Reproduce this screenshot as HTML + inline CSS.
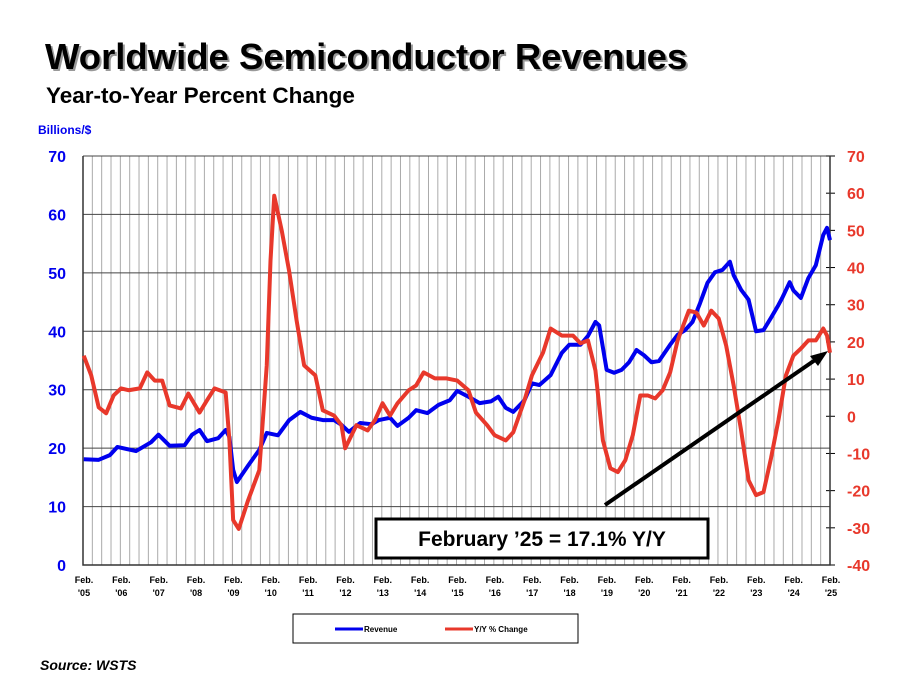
<!DOCTYPE html>
<html><head><meta charset="utf-8"><style>
body{margin:0;background:#fff;width:905px;height:691px;overflow:hidden;font-family:"Liberation Sans",Arial,sans-serif}
svg text{font-family:"Liberation Sans",Arial,sans-serif;font-weight:bold}
</style></head><body>
<svg id="c" width="905" height="691">
<text x="47" y="71" font-size="36.5" fill="#999">Worldwide Semiconductor Revenues</text>
<text x="45" y="69" font-size="36.5" fill="#000">Worldwide Semiconductor Revenues</text>
<text x="46" y="103" font-size="22.5" fill="#000">Year-to-Year Percent Change</text>
<text x="38" y="134" font-size="12" fill="#0000ee">Billions/$</text>
<g id="grid"></g><g id="axes"></g><g id="series"></g>
<line x1="605" y1="505" x2="818" y2="358" stroke="#000" stroke-width="4"/>
<polygon points="828,351 810,356 818,366" fill="#000"/>
<rect x="376" y="519" width="332" height="39" fill="#fff" stroke="#000" stroke-width="3"/>
<text x="542" y="546" font-size="21" text-anchor="middle">February ’25 = 17.1% Y/Y</text>
<rect x="293" y="614" width="285" height="29" fill="#fff" stroke="#000" stroke-width="1"/>
<line x1="335" y1="629" x2="363" y2="629" stroke="#0000ee" stroke-width="3"/>
<text x="364" y="632" font-size="8">Revenue</text>
<line x1="445" y1="629" x2="473" y2="629" stroke="#e8382b" stroke-width="3"/>
<text x="474" y="632" font-size="8">Y/Y % Change</text>
<text x="40" y="670" font-size="14" font-style="italic">Source: WSTS</text>
</svg>
<script>
const revYears=[2005.1,2005.5,2005.8,2006.0,2006.5,2006.9,2007.1,2007.4,2007.8,2008.0,2008.2,2008.4,2008.7,2008.9,2009.0,2009.1,2009.2,2009.5,2009.8,2010.0,2010.3,2010.6,2010.9,2011.2,2011.5,2011.8,2012.0,2012.2,2012.5,2012.8,2013.0,2013.3,2013.5,2013.8,2014.0,2014.3,2014.6,2014.9,2015.1,2015.4,2015.7,2016.0,2016.2,2016.4,2016.6,2016.9,2017.1,2017.3,2017.6,2017.9,2018.1,2018.4,2018.6,2018.8,2018.9,2019.1,2019.3,2019.5,2019.7,2019.9,2020.1,2020.3,2020.5,2020.8,2021.0,2021.2,2021.4,2021.6,2021.8,2022.0,2022.2,2022.4,2022.5,2022.7,2022.9,2023.1,2023.3,2023.5,2023.7,2023.8,2024.0,2024.1,2024.3,2024.5,2024.7,2024.9,2025.0,2025.08];
const revenue=[18.1,18,18.8,20.2,19.5,21,22.3,20.4,20.5,22.3,23.1,21.2,21.7,23.1,21.9,16.3,14.2,17,19.7,22.6,22.2,24.8,26.2,25.2,24.8,24.8,24,22.8,24.3,24.1,24.8,25.2,23.8,25.2,26.5,26,27.4,28.2,29.8,28.8,27.7,28,28.8,26.9,26.2,28.2,31.1,30.8,32.5,36.3,37.7,37.7,39.2,41.6,41,33.4,32.9,33.4,34.7,36.8,35.9,34.7,34.9,37.7,39.4,40.2,41.6,44.8,48.3,50.1,50.5,51.9,49.6,47.1,45.4,40,40.2,42.3,44.5,45.7,48.4,47,45.7,49.1,51.3,56.5,57.7,55.6];
const yoyYears=[2005.1,2005.3,2005.5,2005.7,2005.9,2006.1,2006.3,2006.6,2006.8,2007.0,2007.2,2007.4,2007.7,2007.9,2008.2,2008.4,2008.6,2008.9,2009.0,2009.1,2009.25,2009.5,2009.8,2010.0,2010.1,2010.2,2010.4,2010.6,2010.8,2011.0,2011.3,2011.5,2011.8,2012.0,2012.1,2012.4,2012.7,2012.9,2013.1,2013.3,2013.5,2013.8,2014.0,2014.2,2014.5,2014.8,2015.1,2015.4,2015.6,2015.9,2016.1,2016.4,2016.6,2016.9,2017.1,2017.4,2017.6,2017.9,2018.2,2018.4,2018.6,2018.8,2019.0,2019.2,2019.4,2019.6,2019.8,2020.0,2020.2,2020.4,2020.6,2020.8,2021.0,2021.3,2021.5,2021.7,2021.9,2022.1,2022.3,2022.5,2022.7,2022.9,2023.1,2023.3,2023.5,2023.7,2023.9,2024.1,2024.3,2024.5,2024.7,2024.9,2025.0,2025.08];
const yoy=[16.3,11,2.4,0.8,5.6,7.5,7,7.5,11.8,9.6,9.6,2.9,2.1,6.1,1,4.3,7.5,6.4,-6.5,-27.9,-30.3,-22.6,-14.5,13.7,41.8,59.3,50,39,25.7,13.7,11,1.6,0.2,-2.4,-8.6,-2.4,-3.8,-1,3.5,0.2,3.5,7,8.3,11.8,10.2,10.2,9.6,7,1,-2.4,-5.1,-6.5,-4.3,4.3,11,17.2,23.6,21.7,21.7,19.6,20.4,12.3,-6.5,-14,-15,-11.8,-5.1,5.6,5.6,4.8,7,11.8,20.4,28.4,27.9,24.4,28.4,26.3,19,8.3,-3.8,-17.2,-21.2,-20.4,-11.3,-1,11,16.3,18.2,20.4,20.4,23.6,21.7,17.1];
const leftTicks=[0,10,20,30,40,50,60,70];
const rightTicks=[-40,-30,-20,-10,0,10,20,30,40,50,60,70];
const yearLabels=["'05","'06","'07","'08","'09","'10","'11","'12","'13","'14","'15","'16","'17","'18","'19","'20","'21","'22","'23","'24","'25"];
const X0=83,X1=830,T=156,B=565;
const x=y=>X0+(y-2005.08)/20*(X1-X0);
const yl=v=>B-v/70*(B-T);
const yr=v=>B-(v+40)/110*(B-T);
const NS="http://www.w3.org/2000/svg";
function mk(p,tag,at){const e=document.createElementNS(NS,tag);for(const k in at)e.setAttribute(k,at[k]);p.appendChild(e);return e;}
const grid=document.getElementById('grid'),axes=document.getElementById('axes'),ser=document.getElementById('series');
for(let i=1;i<80;i++){const gx=X0+i*(X1-X0)/80;
const l=mk(grid,'line',{x1:gx,x2:gx,y1:T,y2:B,stroke:'#aaa','stroke-width':1});

}
leftTicks.forEach(v=>{const gy=yl(v);
const l=mk(grid,'line',{x1:X0,x2:X1,y1:gy,y2:gy,stroke:'#444','stroke-width':1});


const t=mk(axes,'text',{x:66,y:gy+6,'font-size':16,fill:'#0000ee','text-anchor':'end'});t.textContent=v;

});
rightTicks.forEach(v=>{const gy=yr(v);
const l=mk(axes,'line',{x1:X1-4,x2:X1+5,y1:gy,y2:gy,stroke:'#000','stroke-width':1});


const t=mk(axes,'text',{x:847,y:gy+6,'font-size':16,fill:'#e8382b'});t.textContent=v;

});
yearLabels.forEach((lab,i)=>{const lx=X0+1+i*(X1-X0)/20;
const t1=mk(axes,'text',{x:lx,y:583,'font-size':9,'text-anchor':'middle'});t1.textContent='Feb.';


const t2=mk(axes,'text',{x:lx,y:596,'font-size':9,'text-anchor':'middle'});t2.textContent=lab;

});
const ax=mk(axes,'path',{d:`M${X0},${T}V${B}H${X1}V${T}`,fill:'none',stroke:'#333','stroke-width':1.5});


const r=mk(ser,'polyline',{points:revYears.map((yv,i)=>x(yv)+','+yl(revenue[i])).join(' '),fill:'none',stroke:'#0000ee','stroke-width':4,'stroke-linejoin':'round'});


const q=mk(ser,'polyline',{points:yoyYears.map((yv,i)=>x(yv)+','+yr(yoy[i])).join(' '),fill:'none',stroke:'#e8382b','stroke-width':4,'stroke-linejoin':'round'});


</script>
</body></html>
